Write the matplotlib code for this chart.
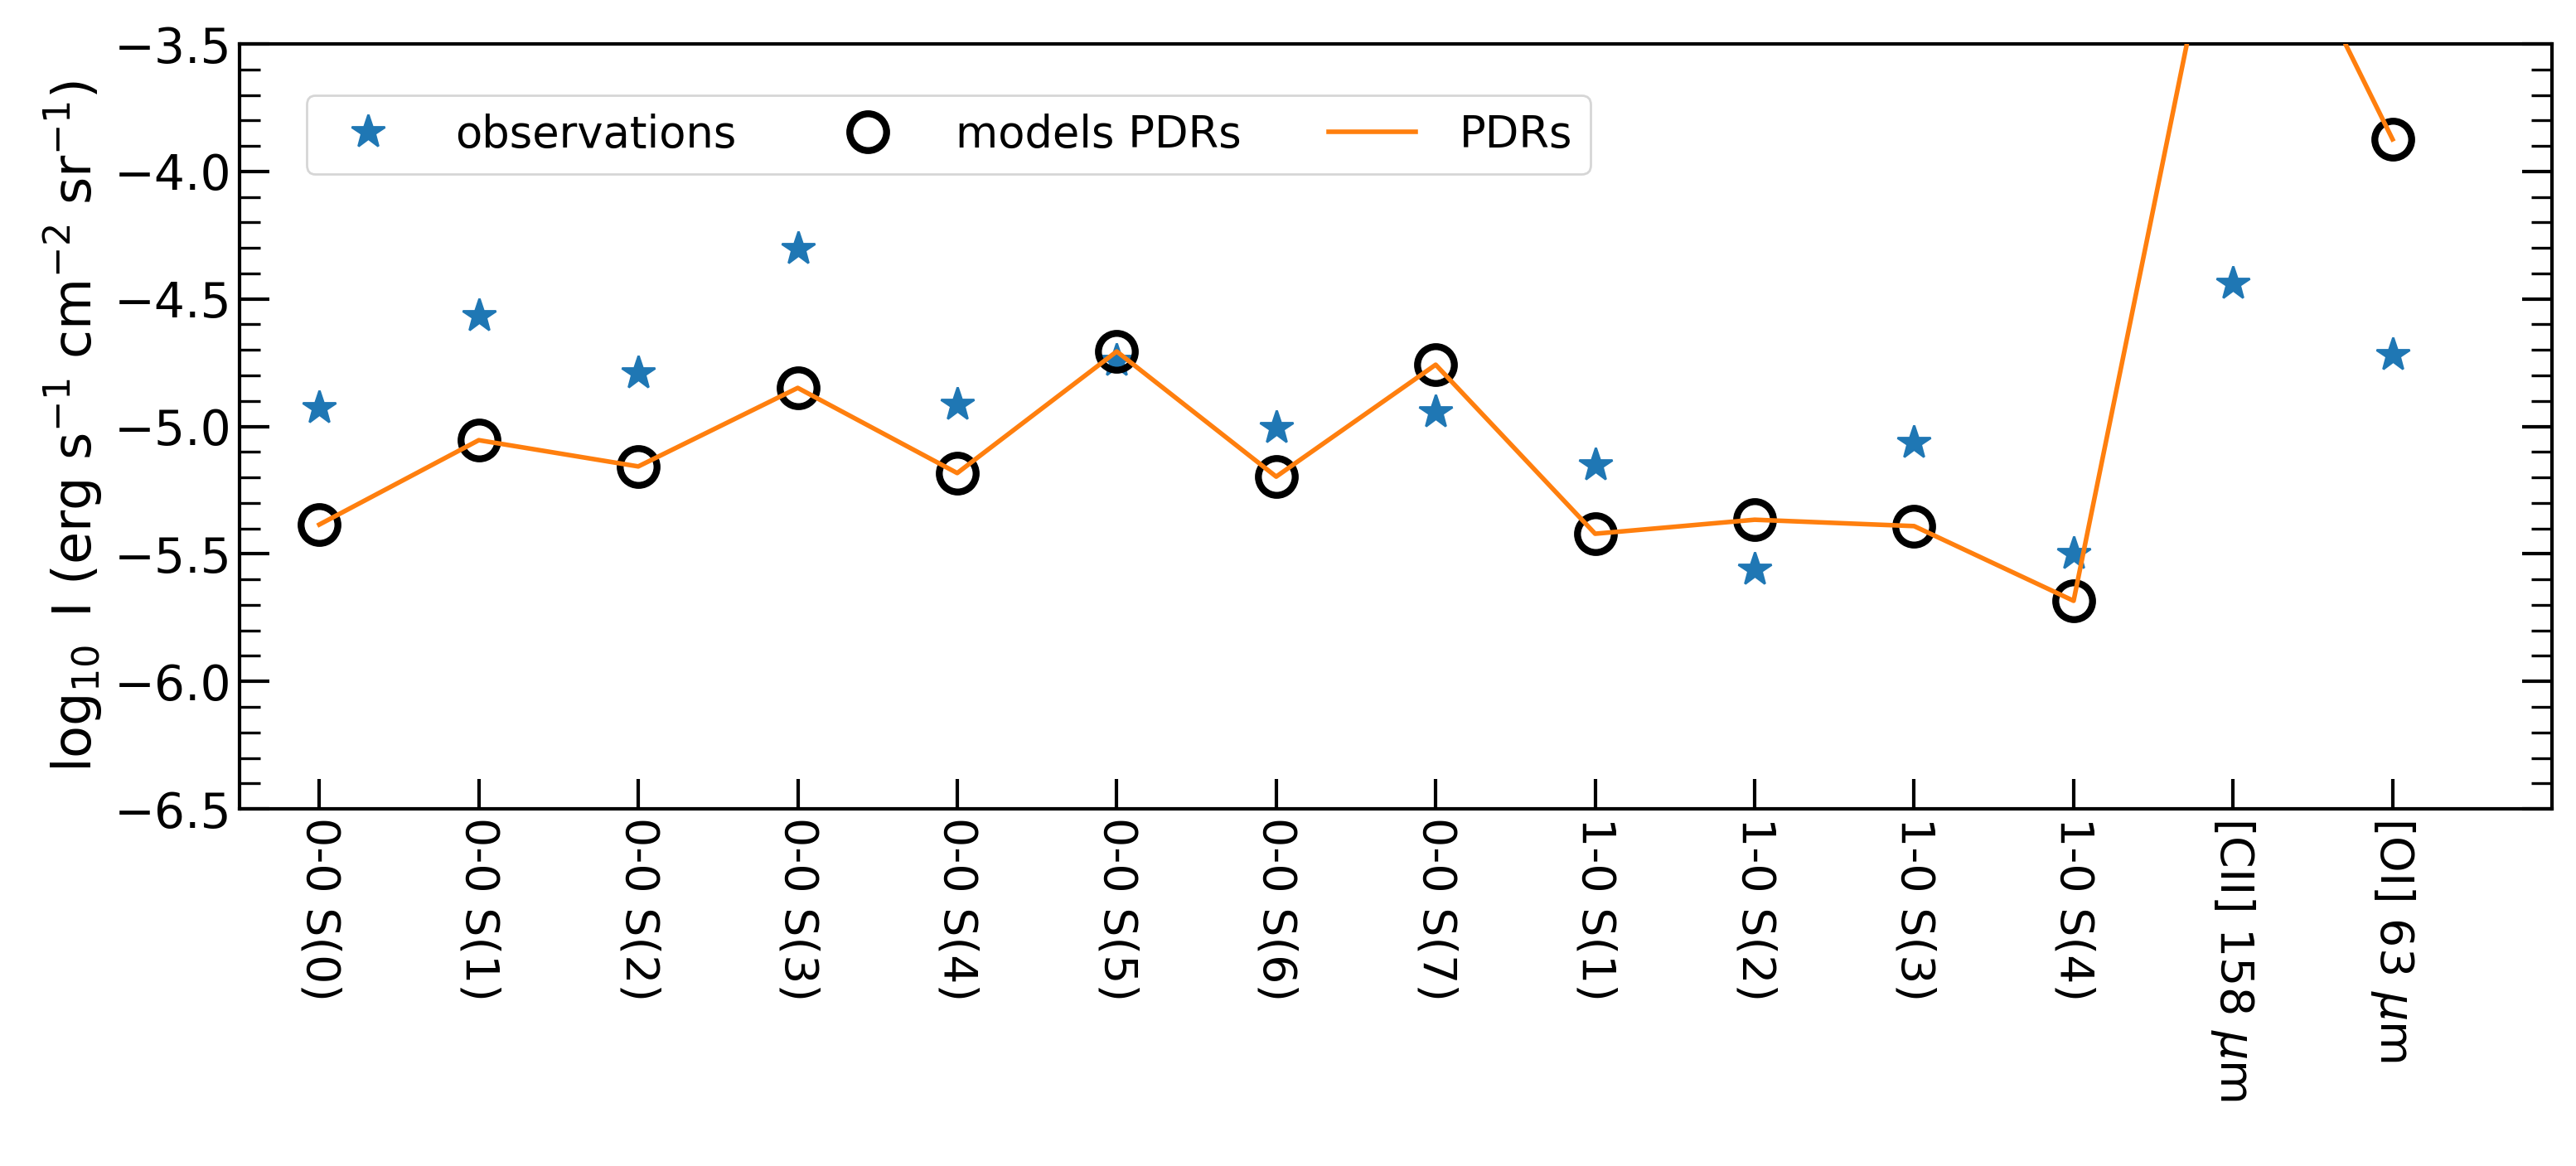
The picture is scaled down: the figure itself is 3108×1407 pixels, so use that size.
import numpy as np
import matplotlib
matplotlib.use("Agg")
import matplotlib.pyplot as plt
from matplotlib.ticker import MultipleLocator

lines = ['0-0 S(0)', '0-0 S(1)', '0-0 S(2)', '0-0 S(3)', '0-0 S(4)', '0-0 S(5)',
         '0-0 S(6)', '0-0 S(7)', '1-0 S(1)', '1-0 S(2)', '1-0 S(3)', '1-0 S(4)',
         r'[CII] 158 $\mu$m', r'[OI] 63 $\mu$m']

obs = [-4.927, -4.566, -4.790, -4.303, -4.914, -4.740, -5.005, -4.943,
       -5.151, -5.561, -5.063, -5.500, -4.440, -4.720]

models = [-5.385, -5.054, -5.157, -4.849, -5.183, -4.706, -5.197, -4.758,
          -5.421, -5.366, -5.391, -5.684, -2.608, -3.874]

x = np.arange(len(lines))

fig = plt.figure(figsize=(15.54, 7.035), dpi=200)
ax = fig.add_axes([0.093, 0.3063, 0.8977, 0.656])

ax.plot(x, obs, linestyle='none', marker='*', ms=15, color='C0', label='observations', zorder=2)
ax.plot(x, models, linestyle='none', marker='o', ms=16, mfc='none', mec='black', mew=3,
        label='models PDRs', zorder=3)
ax.plot(x, models, color='C1', lw=2, label='PDRs', zorder=4)

ax.set_xlim(-0.5, 14)
ax.set_ylim(-6.5, -3.5)
ax.set_xticks(x)
ax.set_xticklabels(lines, rotation=-90, fontsize=20)
ax.yaxis.set_major_locator(MultipleLocator(0.5))
ax.yaxis.set_minor_locator(MultipleLocator(0.1))
ax.tick_params(axis='y', which='both', direction='in', left=True, right=True, labelsize=21)
ax.tick_params(axis='y', which='major', length=13, width=1.5)
ax.tick_params(axis='y', which='minor', length=9, width=1.2)
ax.tick_params(axis='x', which='major', direction='in', length=13, width=1.5, top=False)
for s in ax.spines.values():
    s.set_linewidth(1.5)

ax.set_ylabel(r'$\log_{10}$ I (erg s$^{-1}$ cm$^{-2}$ sr$^{-1}$)', fontsize=23)

ax.legend(loc='upper left', bbox_to_anchor=(0.0195, 0.961), ncol=3, fontsize=19,
          columnspacing=2.0, handletextpad=1.0)

fig.savefig('out.png', dpi=200)
